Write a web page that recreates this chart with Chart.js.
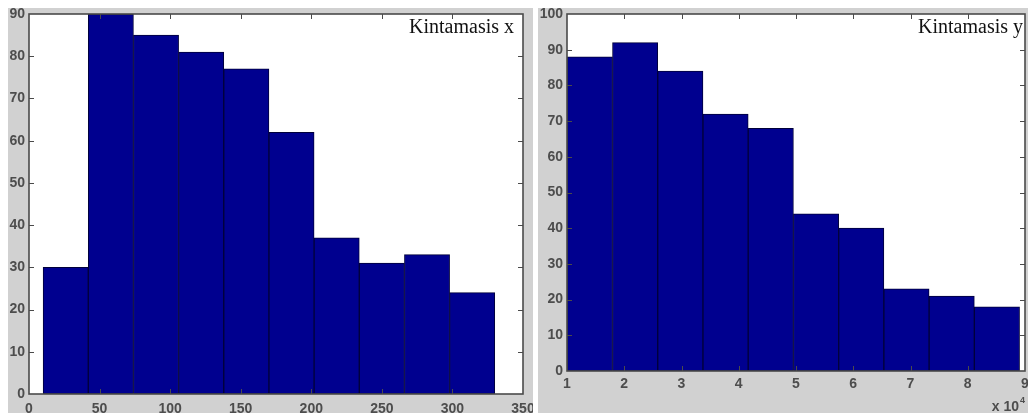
<!DOCTYPE html>
<html>
<head>
<meta charset="utf-8">
<script src="https://cdn.jsdelivr.net/npm/chart.js"></script>
<style>
    html, body { margin: 0; padding: 0; background: #fff; width: 1028px; height: 417px; overflow: hidden; }
    .panel { position: absolute; background: #d1d1d1; }
    #panelX { left: 8px; top: 8px; width: 525px; height: 405px; }
    #panelY { left: 538px; top: 8px; width: 490px; height: 405px; }
    canvas { display: block; }
</style>
</head>
<body>
<div class="panel" id="panelX"><canvas id="histX" width="525" height="405"></canvas></div>
<div class="panel" id="panelY"><canvas id="histY" width="490" height="405"></canvas></div>
<script>
// histogramu duomenys (stulpelio centras + dažnis)
const xCenters = [26, 58, 90, 122, 154, 186, 218, 250, 282, 314];
const xCounts = [30, 90, 85, 81, 77, 62, 37, 31, 33, 24];
const xTicks = [0, 50, 100, 150, 200, 250, 300, 350];
const xTitle = 'Kintamasis x';

const yCenters = [1.40, 2.19, 2.98, 3.77, 4.56, 5.35, 6.14, 6.93, 7.72, 8.51];
const yCounts = [88, 92, 84, 72, 68, 44, 40, 23, 21, 18];
const yTicks = [1, 2, 3, 4, 5, 6, 7, 8, 9];
const yTitle = 'Kintamasis y';

const tickFont = { family: 'Liberation Sans', size: 14, weight: 'bold' };
const tickColor = '#4d4d4d';

// MATLAB stiliaus rėmelis su vidinėmis žymomis + užrašas
const matlabBox = {
    id: 'matlabBox',
    beforeDatasetsDraw(chart) {
        const { ctx, chartArea: a } = chart;
        ctx.save();
        ctx.fillStyle = '#fff';
        ctx.fillRect(a.left, a.top, a.right - a.left, a.bottom - a.top);
        ctx.restore();
    },
    afterDraw(chart, args, opts) {
        const { ctx, chartArea: a, scales } = chart;
        ctx.save();
        ctx.strokeStyle = '#4a4a4a';
        ctx.lineWidth = 1;
        ctx.beginPath();
        scales.x.ticks.forEach(t => {
            const px = Math.round(scales.x.getPixelForValue(t.value)) + 0.5;
            if (px <= a.left + 1 || px >= a.right - 1) return;
            ctx.moveTo(px, a.bottom); ctx.lineTo(px, a.bottom - 5);
            ctx.moveTo(px, a.top); ctx.lineTo(px, a.top + 5);
        });
        scales.y.ticks.forEach(t => {
            const py = Math.round(scales.y.getPixelForValue(t.value)) + 0.5;
            if (py <= a.top + 1 || py >= a.bottom - 1) return;
            ctx.moveTo(a.left, py); ctx.lineTo(a.left + 5, py);
            ctx.moveTo(a.right, py); ctx.lineTo(a.right - 5, py);
        });
        ctx.stroke();
        ctx.lineWidth = 1.6;
        ctx.strokeRect(a.left, a.top, a.right - a.left, a.bottom - a.top);

        ctx.fillStyle = '#111';
        ctx.font = '20px "Liberation Serif"';
        ctx.textAlign = 'right';
        ctx.textBaseline = 'alphabetic';
        ctx.fillText(opts.title, a.right - opts.titleInset, a.top + 19);

        if (opts.exponent) {
            ctx.fillStyle = tickColor;
            ctx.font = 'bold 14px "Liberation Sans"';
            ctx.textAlign = 'right';
            ctx.fillText('x 10', a.right - 6, chart.height - 2);
            ctx.font = 'bold 9px "Liberation Sans"';
            ctx.textAlign = 'left';
            ctx.fillText(opts.exponent, a.right - 5, chart.height - 10);
        }
        ctx.restore();
    }
};

function makeHist(id, centers, counts, ticks, cfg) {
    return new Chart(document.getElementById(id), {
        type: 'bar',
        data: {
            datasets: [{
                data: centers.map((c, i) => ({ x: c, y: counts[i] })),
                backgroundColor: '#00008f',
                borderColor: '#00003a',
                borderWidth: 1,
                borderSkipped: false,
                barPercentage: 1,
                categoryPercentage: 1
            }]
        },
        options: {
            responsive: false,
            animation: false,
            layout: { padding: { left: 0, top: 6, right: cfg.padRight, bottom: 0 } },
            plugins: {
                legend: { display: false },
                tooltip: { enabled: false },
                matlabBox: { title: cfg.title, titleInset: cfg.titleInset, exponent: cfg.exponent }
            },
            scales: {
                x: {
                    type: 'linear',
                    min: ticks[0],
                    max: ticks[ticks.length - 1],
                    offset: false,
                    grid: { display: false, drawTicks: false, offset: false },
                    border: { display: false },
                    afterBuildTicks: s => { s.ticks = ticks.map(v => ({ value: v })); },
                    ticks: { autoSkip: false, maxRotation: 0, padding: cfg.xPad, font: tickFont, color: tickColor },
                    afterFit: s => { s.height = cfg.xHeight; s.paddingLeft = 0; s.paddingRight = 0; }
                },
                y: {
                    min: 0,
                    max: cfg.yMax,
                    grid: { display: false, drawTicks: false },
                    border: { display: false },
                    ticks: { stepSize: 10, padding: 4, font: tickFont, color: tickColor },
                    afterFit: s => { s.width = cfg.yWidth; s.paddingTop = 0; s.paddingBottom = 0; }
                }
            }
        },
        plugins: [matlabBox]
    });
}

makeHist('histX', xCenters, xCounts, xTicks, {
    yMax: 90, yWidth: 21, xHeight: 19, padRight: 10, xPad: 7, title: xTitle, titleInset: 9
});
makeHist('histY', yCenters, yCounts, yTicks, {
    yMax: 100, yWidth: 29, xHeight: 42, padRight: 3, xPad: 5, title: yTitle, titleInset: 2, exponent: '4'
});
</script>
</body>
</html>
